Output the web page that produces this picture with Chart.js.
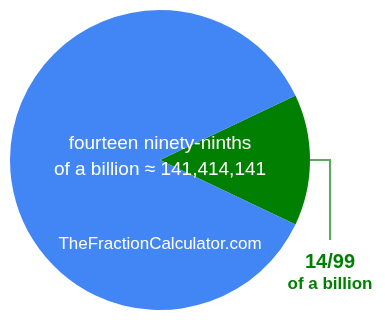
<!DOCTYPE html>
<html lang="en">
<head>
    <meta charset="UTF-8">
    <title>14/99 of a billion</title>
    <script src="https://cdn.jsdelivr.net/npm/chart.js"></script>
    <style>
        html, body { margin: 0; padding: 0; background: #fff; }
        #wrap { width: 385px; height: 320px; }
    </style>
</head>
<body>
    <div id="wrap"><canvas id="pieChart" width="385" height="320"></canvas></div>

    <script>
        // Chart data
        const sliceLabels = ['14/99', 'rest'];
        const sliceValues = [14, 85];
        const sliceColors = ['#007f00', '#4285f4'];
        const centerLines = ['fourteen ninety-ninths', 'of a billion \u2248 141,414,141'];
        const siteLabel = 'TheFractionCalculator.com';
        const calloutLines = ['14/99', 'of a billion'];

        const total = sliceValues.reduce((a, b) => a + b, 0);
        // green slice centred on 3 o'clock
        const rotation = 90 - (sliceValues[0] / total * 360) / 2;

        // Draws the white centre text, the site name and the green callout
        const textPlugin = {
            id: 'textPlugin',
            afterDraw(chart) {
                const ctx = chart.ctx;
                const arc = chart.getDatasetMeta(0).data[0];
                const cx = arc.x, cy = arc.y, r = arc.outerRadius;
                ctx.save();
                ctx.textAlign = 'center';
                ctx.textBaseline = 'alphabetic';
                ctx.fillStyle = '#ffffff';
                ctx.font = '19px "Liberation Sans", Arial, sans-serif';
                ctx.fillText(centerLines[0], cx, cy - 11);
                ctx.fillText(centerLines[1], cx, cy + 15);
                ctx.font = '17px "Liberation Sans", Arial, sans-serif';
                ctx.fillText(siteLabel, cx, cy + 89);

                // leader line
                const lx = cx + r + 20;
                ctx.strokeStyle = '#5aa85a';
                ctx.lineWidth = 2;
                ctx.beginPath();
                ctx.moveTo(cx + r, cy);
                ctx.lineTo(lx, cy);
                ctx.lineTo(lx, cy + 80);
                ctx.stroke();

                ctx.fillStyle = sliceColors[0];
                ctx.font = 'bold 20px "Liberation Sans", Arial, sans-serif';
                ctx.fillText(calloutLines[0], lx, cy + 108);
                ctx.font = 'bold 17px "Liberation Sans", Arial, sans-serif';
                ctx.fillText(calloutLines[1], lx, cy + 129);
                ctx.restore();
            }
        };

        new Chart(document.getElementById('pieChart'), {
            type: 'pie',
            data: {
                labels: sliceLabels,
                datasets: [{
                    data: sliceValues,
                    backgroundColor: sliceColors,
                    borderWidth: 0
                }]
            },
            options: {
                responsive: false,
                animation: false,
                rotation: rotation,
                layout: { padding: { top: 10, bottom: 10, left: 10, right: 75 } },
                plugins: {
                    legend: { display: false },
                    tooltip: { enabled: false }
                }
            },
            plugins: [textPlugin]
        });
    </script>
</body>
</html>
